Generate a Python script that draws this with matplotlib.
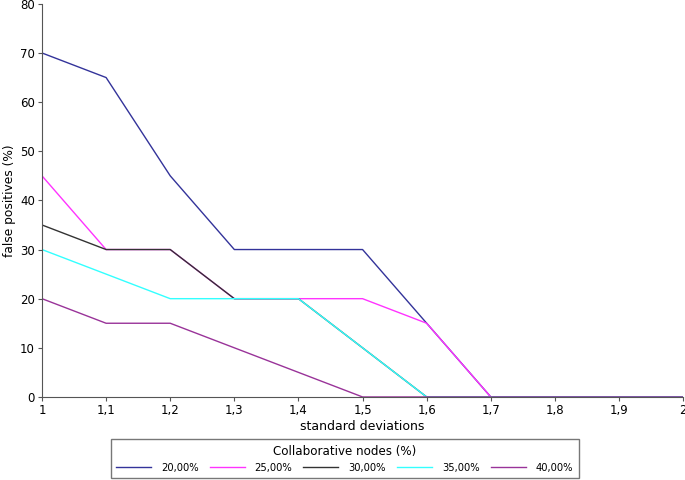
import matplotlib.pyplot as plt

x = [1, 1.1, 1.2, 1.3, 1.4, 1.5, 1.6, 1.7, 1.8, 1.9, 2]
fp20 = [70, 65, 45, 30, 30, 30, 15, 0, 0, 0, 0]
fp25 = [45, 30, 30, 20, 20, 20, 15, 0, 0, 0, 0]
fp30 = [35, 30, 30, 20, 20, 10, 0, 0, 0, 0, 0]
fp35 = [30, 25, 20, 20, 20, 10, 0, 0, 0, 0, 0]
fp40 = [20, 15, 15, 10, 5, 0, 0, 0, 0, 0, 0]
labels = ['20,00%', '25,00%', '30,00%', '35,00%', '40,00%']
colors = ['#33339a', '#ff33ff', '#333333', '#33ffff', '#993399']

fig = plt.figure(figsize=(6.85, 4.8), dpi=100)
ax = fig.add_axes([0.0613, 0.173, 0.936, 0.819])

for ys, lab, c in zip([fp20, fp25, fp30, fp35, fp40], labels, colors):
    ax.plot(x, ys, color=c, lw=1, label=lab)

ax.set_xlim(1, 2)
ax.set_ylim(0, 80)
ax.set_xticks(x)
ax.set_xticklabels(['1', '1,1', '1,2', '1,3', '1,4', '1,5', '1,6', '1,7', '1,8', '1,9', '2'])
ax.set_yticks(range(0, 81, 10))
for s in ['top', 'right']:
    ax.spines[s].set_visible(False)
for s in ['left', 'bottom']:
    ax.spines[s].set_color('#555555')
ax.tick_params(labelsize=8.5, length=3, pad=2, color='#555555')
ax.set_xlabel('standard deviations', fontsize=9, labelpad=2)
ax.set_ylabel('false positives (%)', fontsize=8.8, labelpad=3)

leg = fig.legend(loc='lower center', bbox_to_anchor=(0.503, 0.004), ncol=5,
                 title='Collaborative nodes (%)', fontsize=7.2, title_fontsize=8.6,
                 fancybox=False, edgecolor='#555555', handlelength=3.5,
                 columnspacing=1.1, handletextpad=1.0, borderpad=0.55,
                 borderaxespad=0)
leg.get_frame().set_linewidth(1)

fig.savefig('out.png', dpi=100)
